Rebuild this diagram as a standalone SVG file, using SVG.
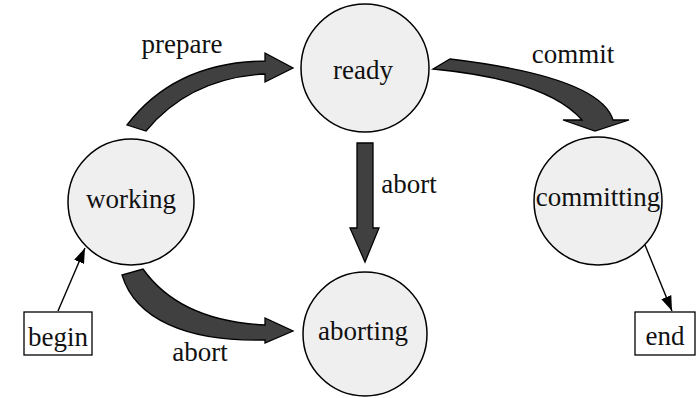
<svg xmlns="http://www.w3.org/2000/svg" width="697" height="398" viewBox="0 0 697 398">
  <style>
    .state { fill: #efefef; stroke: #000; stroke-width: 1.5; }
    .box { fill: #fff; stroke: #000; stroke-width: 1.3; }
    text { font-family: Liberation Serif, Times New Roman, serif; font-size: 27px; fill: #111; text-anchor: middle; }
    .big { fill: #404040; stroke: #000; stroke-width: 1.3; stroke-linejoin: miter; }
    .thin { fill: none; stroke: #000; stroke-width: 1.4; }
  </style>
  <defs>
    <marker id="headL" viewBox="0 0 14 10" refX="14" refY="5" markerWidth="15" markerHeight="11" markerUnits="userSpaceOnUse" orient="auto">
      <path d="M0,0 L14,5 L0,10 Z" fill="#000"/>
    </marker>
  </defs>

  <!-- connectors: block arrows for transitions, thin arrows for entry and exit -->
  <g id="connectors">
    <!-- prepare: working to ready -->
    <path class="big" d="M127,125 Q175,62 265,61 L265,53 L293,68 L265,82 L265,74 Q190,78 146,131 Z"/>
    <!-- commit: ready to committing -->
    <path class="big" d="M450,59 Q600,77 613,120 L629,120 L595,131 L563,120 L582,120 Q547,80 433,69 Z"/>
    <!-- abort: working to aborting -->
    <path class="big" d="M143,269 Q180,321 265,325 L265,318 L293,331 L265,343 L265,340 C185,342 135,318 122,275 Z"/>
    <!-- abort: ready to aborting -->
    <path class="big" d="M357,143 L373,143 L373,228 L379,228 L365,262 L350,228 L357,228 Z"/>
    <!-- begin to working -->
    <line class="thin" x1="58" y1="311" x2="85" y2="248" marker-end="url(#headL)"/>
    <!-- committing to end -->
    <line class="thin" x1="645" y1="245" x2="672" y2="311" marker-end="url(#headL)"/>
    <text x="182" y="53">prepare</text>
    <text x="573" y="63">commit</text>
    <text x="409" y="193">abort</text>
    <text x="200" y="361">abort</text>
  </g>

  <g id="ready">
    <circle class="state" cx="365" cy="68" r="64"/>
    <text x="363" y="79">ready</text>
  </g>
  <g id="working">
    <circle class="state" cx="131" cy="202" r="63"/>
    <text x="131" y="208">working</text>
  </g>
  <g id="aborting">
    <circle class="state" cx="365" cy="334" r="62"/>
    <text x="363" y="340">aborting</text>
  </g>
  <g id="committing">
    <circle class="state" cx="598" cy="201" r="64"/>
    <text x="598" y="206">committing</text>
  </g>
  <g id="begin">
    <rect class="box" x="24" y="312" width="68" height="43"/>
    <text x="58" y="346">begin</text>
  </g>
  <g id="end">
    <rect class="box" x="635" y="312" width="60" height="43"/>
    <text x="665" y="345">end</text>
  </g>
</svg>
